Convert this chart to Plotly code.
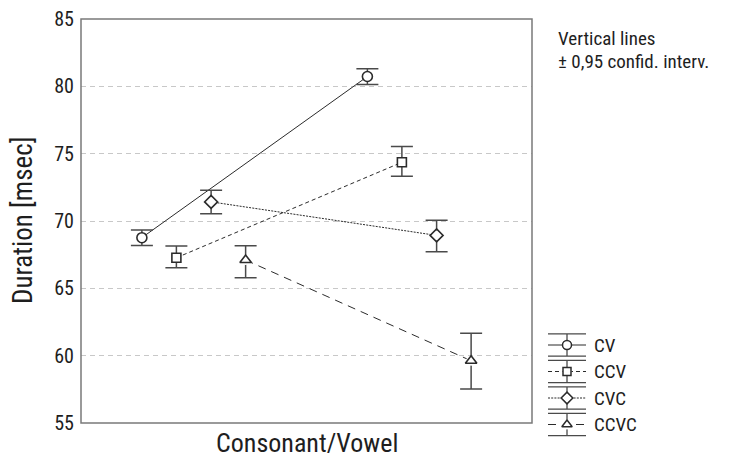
import plotly.graph_objects as go

# ---------------- data ----------------
categories = ["Consonant", "Vowel"]
series_names = ["CV", "CCV", "CVC", "CCVC"]

cv_mean = [68.76, 80.73]
cv_low = [68.18, 80.13]
cv_high = [69.33, 81.30]

ccv_mean = [67.27, 74.36]
ccv_low = [66.53, 73.32]
ccv_high = [68.14, 75.54]

cvc_mean = [71.42, 68.93]
cvc_low = [70.53, 67.72]
cvc_high = [72.28, 70.06]

ccvc_mean = [67.10, 59.62]
ccvc_low = [65.79, 57.52]
ccvc_high = [68.16, 61.67]

y_ticks = [55, 60, 65, 70, 75, 80, 85]

# ---------------- styles / layout ----------------
W, H = 736, 460


def px(xp):
    return xp / W


def py(yp):
    return 1 - yp / H


FONT = "Roboto Condensed, DejaVu Sans Condensed, Roboto, sans-serif"
TXT = "#1e1e1e"
LINE_COL = "#2b2b2b"
ERR_COL = "#4a4a4a"
FRAME_COL = "#7a7a7a"
dodge = [-0.23, -0.077, 0.077, 0.23]
dashes = ["solid", "4px,3px", "2px,1.2px", "8px,6px"]
symbols = ["circle-open", "square-open", "diamond-open", "triangle-up-open"]
msizes = [10, 9, 10, 10]

means = [cv_mean, ccv_mean, cvc_mean, ccvc_mean]
lows = [cv_low, ccv_low, cvc_low, ccvc_low]
highs = [cv_high, ccv_high, cvc_high, ccvc_high]

# plot frame in pixels
L, R, T, B = 81, 532, 19, 423

fig = go.Figure()

for i, name in enumerate(series_names):
    xs = [k + dodge[i] for k in range(len(categories))]
    fig.add_trace(go.Scatter(
        x=xs, y=means[i], mode="lines",
        line=dict(color=LINE_COL, width=1, dash=dashes[i]),
        hoverinfo="skip", showlegend=False))
    fig.add_trace(go.Scatter(
        x=xs, y=means[i], mode="markers", name=name,
        marker=dict(symbol="circle", size=msizes[i], color="white", line=dict(width=0)),
        error_y=dict(type="data", symmetric=False,
                     array=[h - m for h, m in zip(highs[i], means[i])],
                     arrayminus=[m - l for m, l in zip(means[i], lows[i])],
                     color=ERR_COL, thickness=1.5, width=11),
        showlegend=False))
    fig.add_trace(go.Scatter(
        x=xs, y=means[i], mode="markers",
        marker=dict(symbol=symbols[i], size=msizes[i], color=LINE_COL,
                    line=dict(width=1.6, color=LINE_COL)),
        showlegend=False, hoverinfo="skip"))

# ---------------- legend drawn on a small auxiliary axis ----------------
leg_x0, leg_x1 = 548, 586
leg_top, leg_bot = 329.1, 440.4
for i, name in enumerate(series_names):
    yv = 3 - i
    fig.add_trace(go.Scatter(
        x=[0, 1], y=[yv, yv], mode="lines", xaxis="x2", yaxis="y2",
        line=dict(color=LINE_COL, width=1, dash=dashes[i]),
        showlegend=False, hoverinfo="skip"))
    fig.add_trace(go.Scatter(
        x=[0.5], y=[yv], mode="markers", xaxis="x2", yaxis="y2",
        marker=dict(symbol="circle", size=msizes[i], color="white", line=dict(width=0)),
        error_y=dict(type="data", array=[0.42], color=ERR_COL, thickness=1.3, width=19),
        showlegend=False, hoverinfo="skip"))
    fig.add_trace(go.Scatter(
        x=[0.5], y=[yv], mode="markers", xaxis="x2", yaxis="y2",
        marker=dict(symbol=symbols[i], size=msizes[i] - 1, color=LINE_COL,
                    line=dict(width=1.5, color=LINE_COL)),
        showlegend=False, hoverinfo="skip"))
    fig.add_annotation(
        x=px(592), y=yv, xref="paper", yref="y2", text=name, showarrow=False,
        xanchor="left", yanchor="middle",
        font=dict(family=FONT, size=19, color=TXT))

fig.add_annotation(x=px(556), y=py(39), xref="paper", yref="paper",
                   text="Vertical lines", showarrow=False, xanchor="left", yanchor="middle",
                   font=dict(family=FONT, size=19, color=TXT))
fig.add_annotation(x=px(556), y=py(61), xref="paper", yref="paper",
                   text="\u00b1 0,95 confid. interv.", showarrow=False, xanchor="left",
                   yanchor="middle", font=dict(family=FONT, size=19, color=TXT))

# axis titles
fig.add_annotation(x=px((L + R) / 2), y=py(443), xref="paper", yref="paper",
                   text="Consonant/Vowel", showarrow=False, xanchor="center", yanchor="middle",
                   font=dict(family=FONT, size=26, color=TXT))
fig.add_annotation(x=px(23), y=py((T + B) / 2), xref="paper", yref="paper",
                   text="Duration [msec]", showarrow=False, textangle=-90,
                   xanchor="center", yanchor="middle",
                   font=dict(family=FONT, size=27, color=TXT))

# frame around the plot area
fig.add_shape(type="rect", xref="x domain", yref="y domain", x0=0, x1=1, y0=0, y1=1,
              line=dict(color=FRAME_COL, width=1.5), layer="above")

fig.update_layout(
    width=W, height=H,
    margin=dict(l=0, r=0, t=0, b=0, autoexpand=False),
    paper_bgcolor="white", plot_bgcolor="white",
    showlegend=False,
    xaxis=dict(domain=[px(L), px(R)], range=[-0.5, 1.5], showticklabels=False,
               ticks="", showgrid=False, zeroline=False, automargin=False,
               showline=False),
    yaxis=dict(domain=[py(B), py(T)], range=[55, 85], tickmode="array",
               tickvals=y_ticks, ticktext=[str(v) for v in y_ticks],
               ticks="", ticklabelstandoff=6, automargin=False,
               ticklabeloverflow="allow",
               tickfont=dict(family=FONT, size=20, color=TXT),
               showgrid=True, gridcolor="#c8c8c8", griddash="5px,4px", gridwidth=1,
               zeroline=False, showline=False),
    xaxis2=dict(domain=[px(leg_x0), px(leg_x1)], range=[0, 1], visible=False,
                anchor="y2", automargin=False),
    yaxis2=dict(domain=[py(leg_bot), py(leg_top)], range=[-0.6, 3.6],
                visible=False, anchor="x2", automargin=False),
)

# remove the browser's default page margin so the figure fills the window exactly
fig.write_html("out.html", config={"displayModeBar": False},
               post_script="document.body.style.margin='0';")
